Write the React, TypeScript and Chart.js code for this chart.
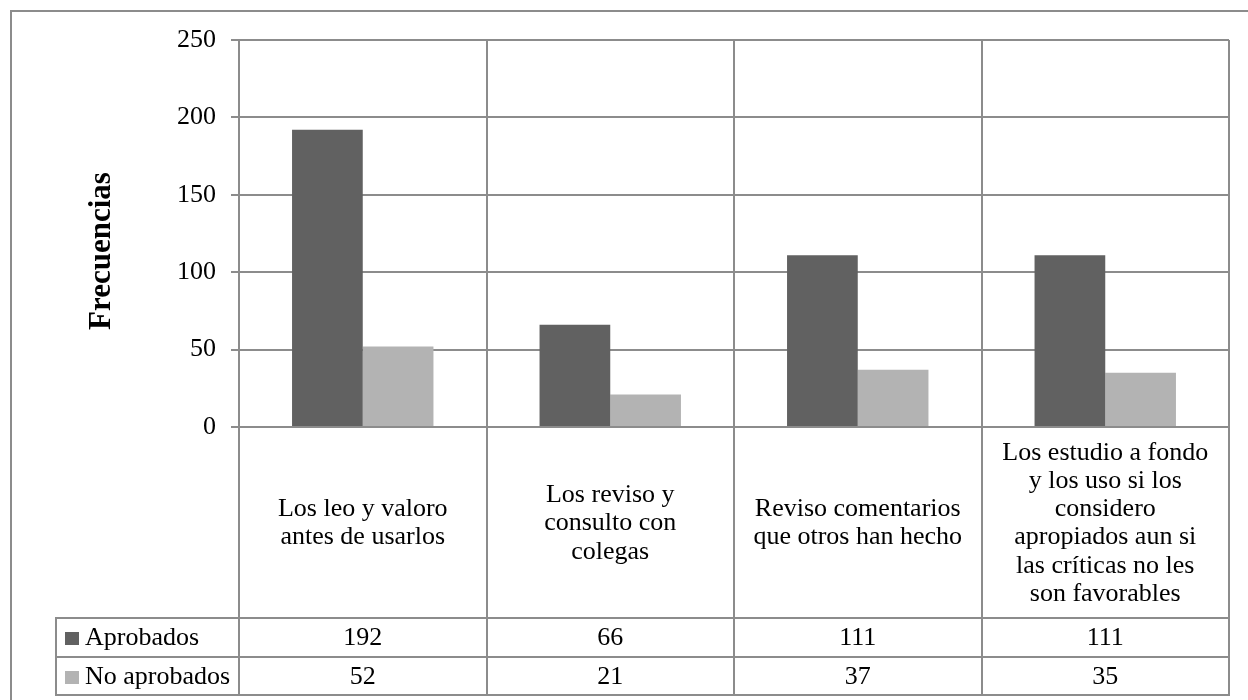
import React, { useEffect, useRef } from 'react';
import { Chart, registerables } from 'chart.js';

Chart.register(...registerables);

// ---- Data ----
const categories: string[][] = [
  ['Los leo y valoro', 'antes de usarlos'],
  ['Los reviso y', 'consulto con', 'colegas'],
  ['Reviso comentarios', 'que otros han hecho'],
  ['Los estudio a fondo', 'y los uso si los', 'considero', 'apropiados aun si', 'las críticas no les', 'son favorables'],
];
const seriesNames: string[] = ['Aprobados', 'No aprobados'];
const aprobados: number[] = [192, 66, 111, 111];
const noAprobados: number[] = [52, 21, 37, 35];
const yTicks: number[] = [0, 50, 100, 150, 200, 250];
const yTitle = 'Frecuencias';

// ---- Styles ----
const FONT = "'Liberation Serif', 'Times New Roman', serif";
const LINE = '#8c8c8c';
const COLORS = ['#616161', '#b3b3b3'];

const W = 1248;
const H = 700;
const PLOT_LEFT = 239;
const PLOT_TOP = 40;
const PLOT_RIGHT = 1229;
const PLOT_BOTTOM = 427;
const LABEL_BOTTOM = 618;
const ROW_H = 38.5;
const TABLE_LEFT = 56;

const excelPlugin = {
  id: 'excelDecor',
  beforeDraw(chart: any) {
    const ctx = chart.ctx;
    ctx.save();
    ctx.fillStyle = '#ffffff';
    ctx.fillRect(0, 0, W, H);
    ctx.strokeStyle = LINE;
    ctx.lineWidth = 2;
    ctx.beginPath();
    ctx.moveTo(11, H + 5);
    ctx.lineTo(11, 11);
    ctx.lineTo(W + 5, 11);
    ctx.stroke();
    ctx.restore();
  },
  afterDraw(chart: any) {
    const ctx = chart.ctx;
    const xs = chart.scales.x;
    const area = chart.chartArea;
    const labels = chart.data.labels as string[][];
    const n = labels.length;
    const tableTop = LABEL_BOTTOM;
    const tableBottom = LABEL_BOTTOM + ROW_H * chart.data.datasets.length;

    ctx.save();
    // table horizontal lines
    ctx.strokeStyle = LINE;
    ctx.lineWidth = 2;
    ctx.beginPath();
    for (let r = 0; r <= chart.data.datasets.length; r++) {
      const y = Math.round(tableTop + r * ROW_H);
      ctx.moveTo(TABLE_LEFT - 1, y);
      ctx.lineTo(area.right + 1, y);
    }
    ctx.moveTo(TABLE_LEFT, tableTop);
    ctx.lineTo(TABLE_LEFT, tableBottom);
    ctx.stroke();

    // category labels
    ctx.fillStyle = '#000000';
    ctx.font = `26px ${FONT}`;
    ctx.textAlign = 'center';
    ctx.textBaseline = 'middle';
    const lh = 28.3;
    const midY = (area.bottom + LABEL_BOTTOM) / 2;
    for (let i = 0; i < n; i++) {
      const cx = xs.getPixelForValue(i);
      const lines = labels[i];
      const startY = midY - ((lines.length - 1) * lh) / 2;
      lines.forEach((t, k) => ctx.fillText(t, cx, startY + k * lh + 1));
    }

    // table rows
    chart.data.datasets.forEach((ds: any, r: number) => {
      const cy = tableTop + r * ROW_H + ROW_H / 2;
      ctx.fillStyle = ds.backgroundColor;
      ctx.fillRect(65, Math.round(cy - 5), 14, 13);
      ctx.fillStyle = '#000000';
      ctx.textAlign = 'left';
      ctx.fillText(ds.label, 85, cy + 1);
      ctx.textAlign = 'center';
      ds.data.forEach((v: number, i: number) => {
        ctx.fillText(String(v), xs.getPixelForValue(i), cy + 1);
      });
    });

    // y title
    ctx.font = `bold 31px ${FONT}`;
    ctx.translate(102, 251);
    ctx.rotate(-Math.PI / 2);
    ctx.textAlign = 'center';
    ctx.textBaseline = 'middle';
    ctx.fillText(yTitle, 0, 0);
    ctx.restore();
  },
};

export default function App() {
  const ref = useRef<HTMLCanvasElement | null>(null);

  useEffect(() => {
    if (!ref.current) return;
    const chart = new Chart(ref.current, {
      type: 'bar',
      data: {
        labels: categories,
        datasets: [
          { label: seriesNames[0], data: aprobados, backgroundColor: COLORS[0], borderWidth: 0, categoryPercentage: 0.5714, barPercentage: 1 },
          { label: seriesNames[1], data: noAprobados, backgroundColor: COLORS[1], borderWidth: 0, categoryPercentage: 0.5714, barPercentage: 1 },
        ],
      },
      options: {
        animation: false,
        responsive: false,
        devicePixelRatio: 1,
        layout: { padding: { left: 0, top: PLOT_TOP, right: W - PLOT_RIGHT, bottom: 0 } },
        plugins: { legend: { display: false }, tooltip: { enabled: false }, title: { display: false } },
        scales: {
          x: {
            offset: true,
            grid: { offset: true, color: LINE, lineWidth: 2, drawTicks: true, tickLength: LABEL_BOTTOM + ROW_H * 2 - PLOT_BOTTOM },
            border: { display: true, color: LINE, width: 2 },
            ticks: { display: false },
            afterFit: (s: any) => { s.height = H - PLOT_BOTTOM; },
          },
          y: {
            min: yTicks[0],
            max: yTicks[yTicks.length - 1],
            afterBuildTicks: (s: any) => { s.ticks = yTicks.map((v) => ({ value: v })); },
            grid: { color: LINE, lineWidth: 2, drawTicks: true, tickLength: 8 },
            border: { display: true, color: LINE, width: 2 },
            ticks: { color: '#000000', font: { family: FONT, size: 26 }, padding: 15 },
            afterFit: (s: any) => { s.width = PLOT_LEFT; },
          },
        },
      },
      plugins: [excelPlugin],
    });
    return () => chart.destroy();
  }, []);

  return (
    <div style={{ position: 'fixed', left: 0, top: 0, width: W, height: H, background: '#fff' }}>
      <canvas ref={ref} width={W} height={H} style={{ width: W, height: H, display: 'block' }} />
    </div>
  );
}
